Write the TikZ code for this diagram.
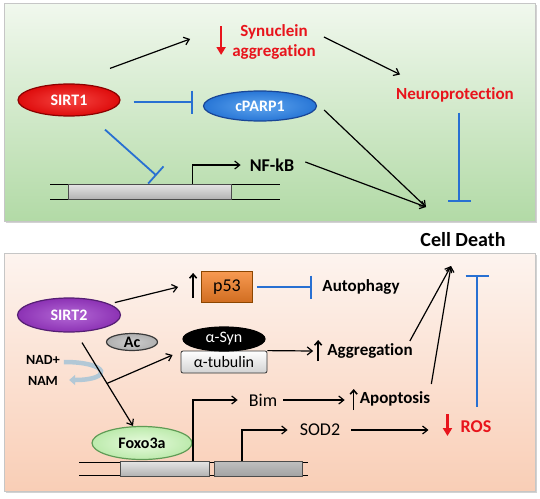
\documentclass[tikz,border=0pt]{standalone}
\usepackage{fontspec}
\setmainfont{Carlito}[Ligatures=NoCommon]
\usetikzlibrary{arrows.meta,positioning,shapes.geometric,shadows}

\definecolor{sirtred}{RGB}{246,70,66}
\definecolor{sirtredm}{RGB}{222,12,12}
\definecolor{sirtredd}{RGB}{140,0,0}
\definecolor{parpblue}{RGB}{95,165,238}
\definecolor{parpbluem}{RGB}{40,118,214}
\definecolor{parpblued}{RGB}{25,70,150}
\definecolor{sirtpurple}{RGB}{180,105,214}
\definecolor{sirtpurplem}{RGB}{140,50,180}
\definecolor{sirtpurpled}{RGB}{85,30,115}
\definecolor{foxogreen}{RGB}{232,251,222}
\definecolor{foxogreenm}{RGB}{188,234,172}
\definecolor{foxogreend}{RGB}{95,155,85}
\definecolor{inhblue}{RGB}{40,112,210}
\definecolor{redtxt}{RGB}{232,20,28}
\definecolor{p53or}{RGB}{245,128,38}
\definecolor{ptop}{RGB}{241,248,238}
\definecolor{pbot}{RGB}{178,218,166}
\definecolor{otop}{RGB}{253,244,239}
\definecolor{omid}{RGB}{248,197,167}
\definecolor{obot}{RGB}{249,206,182}
\definecolor{recyc}{RGB}{178,200,214}

\begin{document}
\begin{tikzpicture}[x=1pt,y=-1pt]
    \tikzstyle{panel} = [draw=gray!45, line width=1pt,
    drop shadow={shadow xshift=1.5pt, shadow yshift=-1.5pt, opacity=.35}]
    \tikzstyle{oval} = [ellipse, draw, line width=1.2pt, inner sep=0pt,
    text=white, font=\bfseries\fontsize{16}{19}\selectfont]
    \tikzstyle{lbl} = [inner sep=1pt, font=\bfseries\fontsize{17}{20}\selectfont]
    \tikzstyle{redlbl} = [lbl, text=redtxt]
    \tikzstyle{plain} = [inner sep=1pt, font=\fontsize{18}{21}\selectfont]
    \tikzstyle{genebox} = [draw=gray!60!black, line width=.8pt, inner sep=0pt,
    minimum height=15pt, top color=gray!20, bottom color=gray!60]
    \tikzstyle{act} = [-{Straight Barb[length=5pt,width=8pt]}, line width=1.2pt]
    \tikzstyle{inh} = [-{Bar[width=23pt]}, draw=inhblue, line width=1.8pt]
    \tikzstyle{upar} = [-{Straight Barb[length=4pt,width=7pt]}, line width=1.6pt]
    \tikzstyle{downar} = [-{Triangle[length=8pt,width=9pt]}, draw=redtxt,
    fill=redtxt, line width=2.2pt]

    \useasboundingbox (0,0) rectangle (540,498);
    \fill[white] (0,0) rectangle (540,498);

    % panels
    \draw[panel, top color=ptop, bottom color=pbot] (4,3) rectangle (535,221);
    \draw[panel, top color=otop, middle color=omid, bottom color=obot]
    (4,253) rectangle (535,491);

    % DNA strands
    \draw[line width=.8pt]
    (50,184) -- (280,184) (50,199) -- (280,199)
    (79,462) -- (308,462) (79,475) -- (308,475);

    % SIRT1 panel
    \draw
    (69,100) node [oval, draw=sirtredd, inner color=sirtred,
    outer color=sirtredm, minimum width=102pt,
    minimum height=32pt] (sirt1) {SIRT1}
    (260,106) node [oval, draw=parpblued, inner color=parpblue,
    outer color=parpbluem, minimum width=113pt,
    minimum height=30pt] (cparp) {cPARP1}
    (274,42) node [redlbl, align=center] (syn) {Synuclein\\aggregation}
    (455,95) node [redlbl] (neuro) {Neuroprotection}
    (272,165) node [lbl, font=\bfseries\fontsize{18}{21}\selectfont] (nfkb) {NF-kB}
    (149.5,191.5) node [genebox, minimum width=163pt] (gene1) {}
    (463,240) node [lbl, font=\bfseries\fontsize{20}{24}\selectfont] (death) {Cell Death}
    ;
    \coordinate (hub1) at (426,207);
    \coordinate (hub2) at (451,266);

    \draw[act] ([xshift=41pt,yshift=15pt]sirt1.north) -- ([xshift=-41pt,yshift=3pt]syn.west);
    \draw[act] ([xshift=7pt,yshift=5pt]syn.east) -- ([xshift=-55pt,yshift=12pt]neuro.north);
    \draw[act] ([xshift=7pt,yshift=-4pt]cparp.east) -- (hub1);
    \draw[act] ([xshift=10pt,yshift=3pt]nfkb.east) -- (hub1);
    \draw[act] ([xshift=43pt]gene1.north) |- ([xshift=-8pt]nfkb.west);
    \draw[inh] ([xshift=13pt,yshift=-2pt]sirt1.east) -- ([xshift=-10pt,yshift=4pt]cparp.west);
    \draw[inh] ([xshift=36pt,yshift=-13pt]sirt1.south) -- ([xshift=7pt,yshift=8pt]gene1.north);
    \draw[inh] ([xshift=4pt,yshift=-9pt]neuro.south) -- ++(0,89);
    \draw[downar] ([xshift=-10pt,yshift=16pt]syn.west) -- ([xshift=-10pt,yshift=-13pt]syn.west);

    % SIRT2 panel
    \draw
    (69,315) node [oval, draw=sirtpurpled, inner color=sirtpurple,
    outer color=sirtpurplem, minimum width=103pt,
    minimum height=34pt] (sirt2) {SIRT2}
    (227,287) node [draw=orange!55!black, line width=.8pt, top color=p53or!80!white,
    bottom color=p53or!85!black, minimum width=51pt, minimum height=31pt,
    font=\fontsize{18}{21}\selectfont] (p53) {p53}
    (361,287) node [lbl] (autoph) {Autophagy}
    (132,342) node [oval, draw=gray!45!black, inner color=gray!40, outer color=gray!62,
    minimum width=51pt, minimum height=17pt, text=black] (ac) {Ac}
    (224,362) node [draw=black!80, line width=.8pt, rounded corners=2pt, top color=white,
    bottom color=gray!35, minimum width=86pt, minimum height=22pt, inner sep=0pt,
    font=\fontsize{16}{19}\selectfont] (atub) {α-tubulin}
    (224,339) node [oval, fill=black, minimum width=82pt, minimum height=24pt,
    font=\fontsize{16}{19}\selectfont] (asyn) {α-Syn}
    (43,360) node [lbl, font=\bfseries\fontsize{14}{17}\selectfont] (nad) {NAD+}
    (43,381) node [lbl, font=\bfseries\fontsize{14}{17}\selectfont] (nam) {NAM}
    (370,351) node [lbl] (agg) {Aggregation}
    (164.5,468.5) node [genebox, minimum width=89pt] (gene2) {}
    (258,468.5) node [genebox, minimum width=88pt, top color=gray!50,
    bottom color=gray!72] (gene3) {}
    (142,443) node [oval, draw=foxogreend, inner color=foxogreen,
    outer color=foxogreenm, minimum width=100pt, minimum height=33pt,
    text=black] (foxo) {Foxo3a}
    (263,400) node [plain] (bim) {Bim}
    (395,399) node [lbl] (apop) {Apoptosis}
    (320,430) node [plain] (sod2) {SOD2}
    (476,427) node [redlbl, font=\bfseries\fontsize{18}{21}\selectfont] (ros) {ROS}
    ;

    \draw[recyc, line width=4.5pt, -{Triangle[length=6pt,width=10pt]}]
    ([xshift=3pt,yshift=-2pt]nad.east) .. controls +(46pt,0pt) and +(44pt,0pt)
    .. ([xshift=10pt,yshift=1pt]nam.east);

    \draw[act] ([xshift=9pt]sirt2.north east) -- ([xshift=-23pt]p53.west);
    \draw[upar] ([xshift=-8pt,yshift=-11pt]p53.west) -- ([xshift=-8pt,yshift=14pt]p53.west);
    \draw[inh] ([xshift=4pt]p53.east) -- ([xshift=-9pt]autoph.west);
    \draw[act] ([xshift=13pt,yshift=-10pt]sirt2.south) -- coordinate[pos=.49] (fork)
    ([xshift=-9pt]foxo.north);
    \draw[act] (fork) -- ([xshift=-8pt,yshift=7pt]atub.west);
    \draw[act] (atub.north east) -- ([xshift=-13pt]agg.west);
    \draw[upar] ([xshift=-8pt,yshift=-10pt]agg.west) -- ([xshift=-8pt,yshift=11pt]agg.west);
    \draw[act] ([xshift=-4pt,yshift=10pt]agg.east) -- (hub2);
    \draw[act] ([xshift=28.5pt]gene2.north) |- ([xshift=-10pt]bim.west);
    \draw[act] ([xshift=5pt]bim.east) -- ([xshift=-14pt,yshift=-1pt]apop.west);
    \draw[upar] ([xshift=-5pt,yshift=-11pt]apop.west) -- ([xshift=-5pt,yshift=10pt]apop.west);
    \draw[act] ([yshift=15pt]apop.east) -- (hub2);
    \draw[act] ([xshift=-16pt]gene3.north) |- ([xshift=-11pt]sod2.west);
    \draw[act] ([xshift=10pt]sod2.east) -- ([xshift=-31pt,yshift=-3pt]ros.west);
    \draw[downar] ([xshift=-12pt,yshift=13pt]ros.west) -- ([xshift=-12pt,yshift=-9pt]ros.west);
    \draw[inh] ([xshift=1pt,yshift=13pt]ros.north) -- ++(0,-132);

\end{tikzpicture}
\end{document}
